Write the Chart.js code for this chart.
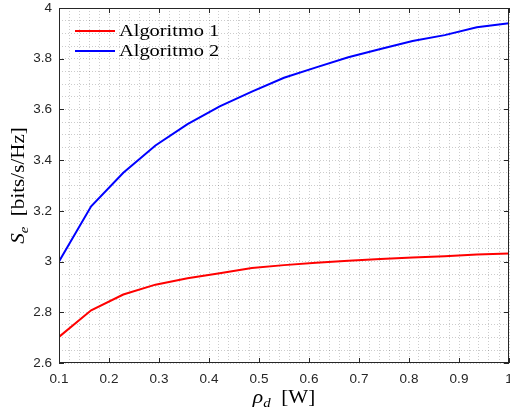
<!DOCTYPE html>
<html>
<head>
<meta charset="utf-8">
<script src="https://cdn.jsdelivr.net/npm/chart.js@4.4.1/dist/chart.umd.min.js"></script>
<style>
html, body { margin: 0; padding: 0; background: #fff; overflow: hidden; }
</style>
</head>
<body>
<canvas id="chart1" width="510" height="415"></canvas>
<script>
// data
const rho = [0.1, 0.1643, 0.2286, 0.2929, 0.3571, 0.4214, 0.4857, 0.55, 0.6143, 0.6786, 0.7429, 0.8071, 0.8714, 0.9357, 1.0];
const alg1 = [2.703, 2.808, 2.870, 2.909, 2.934, 2.954, 2.975, 2.986, 2.995, 3.003, 3.010, 3.016, 3.021, 3.028, 3.032];
const alg2 = [3.000, 3.218, 3.350, 3.458, 3.542, 3.612, 3.670, 3.725, 3.766, 3.806, 3.838, 3.870, 3.893, 3.924, 3.940];
const seriesNames = ['Algoritmo 1', 'Algoritmo 2'];
const xTicks = [0.1, 0.2, 0.3, 0.4, 0.5, 0.6, 0.7, 0.8, 0.9, 1];
const yTicks = [2.6, 2.8, 3, 3.2, 3.4, 3.6, 3.8, 4];

const axisColor = '#262626';
const serif = '"Liberation Serif", "DejaVu Serif", serif';
const stretch = 1.14;   // widen Times a bit so it looks more like the LaTeX font

// draw a row of text pieces (for sub-scripts), centred on cx
function richText(ctx, parts, cx, cy, sx) {
    var total = 0;
    parts.forEach(function (p) { ctx.font = p.font; p.w = ctx.measureText(p.t).width * sx; total += p.w; });
    var x = cx - total / 2;
    ctx.textAlign = 'left';
    ctx.textBaseline = 'alphabetic';
    parts.forEach(function (p) {
        ctx.save();
        ctx.font = p.font;
        ctx.translate(x, cy + (p.dy || 0));
        ctx.scale(sx, 1);
        ctx.fillText(p.t, 0, 0);
        ctx.restore();
        x += p.w;
    });
}

const matlabAxes = {
    id: 'matlabAxes',
    afterDraw: function (chart) {
        const ctx = chart.ctx;
        const a = chart.chartArea;
        const xs = chart.scales.x;
        const ys = chart.scales.y;
        ctx.save();
        // box
        ctx.strokeStyle = axisColor;
        ctx.lineWidth = 1;
        ctx.strokeRect(Math.round(a.left) + 0.5, Math.round(a.top) + 0.5,
            Math.round(a.right - a.left) - 1, Math.round(a.bottom - a.top) - 1);
        // inward ticks on all sides
        ctx.beginPath();
        xTicks.forEach(function (v) {
            var px = Math.round(xs.getPixelForValue(v)) + 0.5;
            ctx.moveTo(px, a.bottom); ctx.lineTo(px, a.bottom - 5);
            ctx.moveTo(px, a.top); ctx.lineTo(px, a.top + 5);
        });
        yTicks.forEach(function (v) {
            var py = Math.round(ys.getPixelForValue(v)) + 0.5;
            ctx.moveTo(a.left, py); ctx.lineTo(a.left + 5, py);
            ctx.moveTo(a.right, py); ctx.lineTo(a.right - 5, py);
        });
        ctx.stroke();
        // tick labels
        ctx.fillStyle = axisColor;
        ctx.font = '13.5px "Liberation Sans", Arial, sans-serif';
        ctx.textAlign = 'center';
        ctx.textBaseline = 'middle';
        xTicks.forEach(function (v) {
            ctx.fillText(String(v), xs.getPixelForValue(v), a.bottom + 16);
        });
        ctx.textAlign = 'right';
        yTicks.forEach(function (v) {
            ctx.fillText(String(v), a.left - 7, ys.getPixelForValue(v));
        });
        // axis titles
        ctx.fillStyle = '#000';
        richText(ctx, [
            { t: '\u03c1', font: 'italic 19px ' + serif },
            { t: 'd', font: 'italic 13px ' + serif, dy: 4 },
            { t: '  [W]', font: '18.5px ' + serif }
        ], (a.left + a.right) / 2, 403, stretch);
        ctx.save();
        ctx.translate(24, (a.top + a.bottom) / 2);
        ctx.rotate(-Math.PI / 2);
        richText(ctx, [
            { t: 'S', font: 'italic 18.5px ' + serif },
            { t: 'e', font: 'italic 13px ' + serif, dy: 4 },
            { t: '  [bits/s/Hz]', font: '18.5px ' + serif }
        ], 0, 0, stretch);
        ctx.restore();
        // legend (transparent, top-left inside axes)
        chart.data.datasets.forEach(function (ds, i) {
            var y = a.top + 23 + i * 20;
            ctx.strokeStyle = ds.borderColor;
            ctx.lineWidth = 2;
            ctx.beginPath();
            ctx.moveTo(a.left + 16, y);
            ctx.lineTo(a.left + 56, y);
            ctx.stroke();
            ctx.save();
            ctx.fillStyle = '#000';
            ctx.font = '17px ' + serif;
            ctx.textAlign = 'left';
            ctx.textBaseline = 'middle';
            ctx.translate(a.left + 60, y + 1);
            ctx.scale(1.2, 1);
            ctx.fillText(ds.label, 0, 0);
            ctx.restore();
        });
        ctx.restore();
    }
};

const data = {
    datasets: [
        {
            label: seriesNames[0],
            data: rho.map(function (x, i) { return { x: x, y: alg1[i] }; }),
            borderColor: 'rgb(255, 0, 0)',
            borderWidth: 2,
            pointRadius: 0,
            tension: 0
        },
        {
            label: seriesNames[1],
            data: rho.map(function (x, i) { return { x: x, y: alg2[i] }; }),
            borderColor: 'rgb(0, 0, 255)',
            borderWidth: 2,
            pointRadius: 0,
            tension: 0
        }
    ]
};

const config = {
    type: 'line',
    data: data,
    options: {
        responsive: false,
        animation: false,
        layout: { padding: { top: 8, right: 1, left: 0, bottom: 0 } },
        scales: {
            x: {
                type: 'linear',
                min: 0.1,
                max: 1,
                ticks: { stepSize: 0.02, display: false },
                grid: { color: 'rgba(0,0,0,0.2)', lineWidth: 1, drawTicks: false },
                border: { display: false, dash: [1, 2] },
                afterFit: function (s) { s.height = 52; }
            },
            y: {
                min: 2.6,
                max: 4,
                ticks: { stepSize: 0.05, display: false },
                grid: { color: 'rgba(0,0,0,0.2)', lineWidth: 1, drawTicks: false },
                border: { display: false, dash: [1, 2] },
                afterFit: function (s) { s.width = 59; }
            }
        },
        plugins: {
            legend: { display: false },
            tooltip: { enabled: false }
        }
    },
    plugins: [matlabAxes]
};

var myLinechart = new Chart(document.getElementById('chart1'), config);
</script>
</body>
</html>
